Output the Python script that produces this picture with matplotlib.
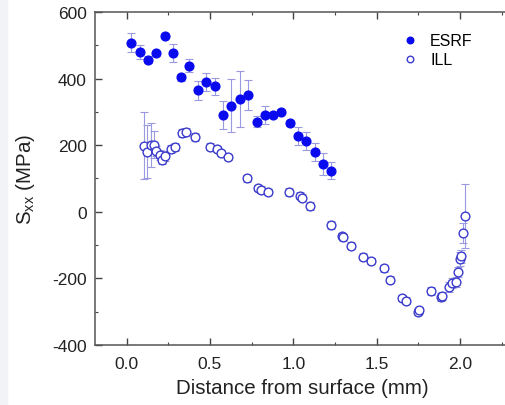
import numpy as np
import matplotlib
matplotlib.use('Agg')
import matplotlib.pyplot as plt
from matplotlib.patches import Rectangle

plt.rcParams['font.family'] = ['Liberation Sans', 'DejaVu Sans']
plt.rcParams['axes.unicode_minus'] = False
plt.rcParams['mathtext.fontset'] = 'custom'
plt.rcParams['mathtext.rm'] = 'Liberation Sans'

# ESRF (filled)
esrf_x = [0.028, 0.078, 0.128, 0.176, 0.228, 0.278, 0.328, 0.376, 0.426, 0.476,
          0.528, 0.578, 0.627, 0.677, 0.727, 0.779, 0.827, 0.877, 0.927, 0.977,
          1.027, 1.075, 1.127, 1.177, 1.227]
esrf_y = [508, 480, 457, 476, 529, 476, 404, 439, 365, 389,
          377, 291, 319, 339, 351, 271, 292, 292, 301, 267,
          227, 213, 180, 144, 123]
esrf_err = [29, 20, 10, 8, 8, 27, 10, 20, 29, 27,
            25, 43, 79, 83, 46, 17, 27, 8, 8, 8,
            27, 28, 27, 34, 26]

# ILL (open)
ill_x = [0.106, 0.122, 0.144, 0.164, 0.178, 0.198, 0.212, 0.228, 0.268, 0.288,
         0.334, 0.358, 0.408, 0.498, 0.541, 0.569, 0.607, 0.723, 0.785, 0.807,
         0.849, 0.973, 1.037, 1.051, 1.098, 1.226, 1.291, 1.296, 1.347, 1.417,
         1.467, 1.542, 1.582, 1.650, 1.676, 1.748, 1.756, 1.826, 1.884, 1.894,
         1.936, 1.950, 1.974, 1.990, 2.000, 2.006, 2.016, 2.032]
ill_y = [199, 181, 201, 202, 184, 172, 157, 169, 189, 196,
         236, 239, 225, 196, 189, 177, 165, 100, 71, 66,
         59, 60, 48, 42, 17, -40, -73, -77, -102, -135,
         -148, -170, -204, -259, -267, -300, -296, -239, -257, -252,
         -227, -215, -211, -182, -142, -134, -64, -13]
ill_err = [100, 80, 65, 40, 15, 15, 12, 15, 12, 12,
           12, 12, 12, 10, 10, 10, 10, 12, 10, 10,
           10, 12, 10, 10, 12, 12, 10, 10, 10, 10,
           10, 10, 10, 10, 10, 10, 10, 12, 12, 12,
           15, 15, 15, 15, 20, 20, 30, 97]

fig = plt.figure(figsize=(5.06, 4.06), dpi=100)
fig.patches.append(Rectangle((0, 0), 7 / 506, 1, transform=fig.transFigure,
                             color='#f1f3f6', zorder=-10))
ax = fig.add_axes([95 / 506, 60 / 406, 415 / 506, 333 / 406])

ax.errorbar(ill_x, ill_y, yerr=ill_err, fmt='none', ecolor='#9a9ae0',
            elinewidth=0.8, capsize=3, capthick=0.8, zorder=1)
ax.errorbar(esrf_x, esrf_y, yerr=esrf_err, fmt='none', ecolor='#9a9ae0',
            elinewidth=0.8, capsize=3, capthick=0.8, zorder=1)
ax.plot(esrf_x, esrf_y, 'o', color='#0a0aee', markersize=6.3, label='ESRF', zorder=3)
ax.plot(ill_x, ill_y, 'o', mfc='white', mec='#3a3acc', mew=1.0, markersize=6.3,
        label='ILL', zorder=2)

ax.set_xlim(-0.19, 2.3)
ax.set_ylim(-400, 600)
ax.set_xticks([0.0, 0.5, 1.0, 1.5, 2.0])
ax.set_xticks([0.25, 0.75, 1.25, 1.75, 2.25], minor=True)
ax.set_yticks([-400, -200, 0, 200, 400, 600])
ax.set_yticks([-300, -100, 100, 300, 500], minor=True)
ax.set_xticklabels(['0.0', '0.5', '1.0', '1.5', '2.0'])
ax.tick_params(which='both', direction='in', top=True, color='#444',
               labelsize=12.5, labelcolor='#222')
ax.tick_params(which='major', length=5, width=1)
ax.tick_params(axis='x', which='major', pad=8)
ax.tick_params(axis='y', which='major', pad=6)
ax.tick_params(which='minor', length=2.5, width=0.8)
for s in ax.spines.values():
    s.set_color('#555')
    s.set_linewidth(1.1)

ax.set_xlabel('Distance from surface (mm)', fontsize=14.8, color='#222', labelpad=5)
ax.set_ylabel('S$_{\\mathregular{xx}}$ (MPa)', fontsize=14.8, color='#222', labelpad=11)

ax.legend(loc='upper left', bbox_to_anchor=(0.715, 0.955), frameon=False,
          fontsize=11.5, handletextpad=0.5, borderaxespad=0, labelspacing=0.25,
          handlelength=1.5, markerscale=0.75)

fig.savefig('out.png', dpi=100)
